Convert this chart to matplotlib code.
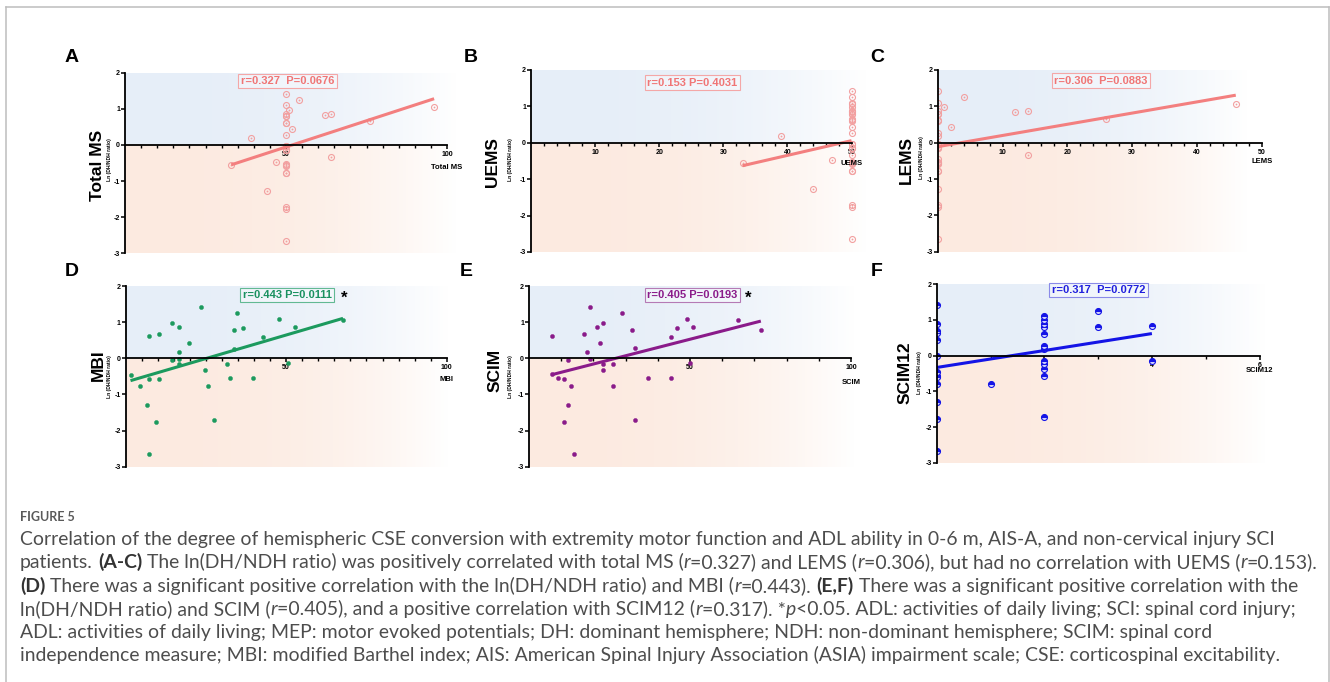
import numpy as np
import matplotlib
matplotlib.use("Agg")
import matplotlib.pyplot as plt
from matplotlib import font_manager
from matplotlib.lines import Line2D

# ---------------- data ----------------
ms_x = [39, 33, 47, 44, 51, 52, 54, 62, 64, 64, 76, 96] + [50] * 21
ms_y = [0.18, -0.55, -0.46, -1.28, 0.97, 0.43, 1.25, 0.84, 0.87, -0.33, 0.66, 1.06,
        1.41, 1.10, 0.86, 0.80, 0.79, 0.62, 0.60, 0.28, -0.03, -0.04, -0.13, -0.15, -0.15,
        -0.54, -0.55, -0.58, -0.77, -0.78, -1.71, -1.76, -2.65]

uems_x = [39, 33, 47, 44] + [50] * 29
uems_y = [0.18, -0.55, -0.46, -1.28,
          1.41, 1.25, 1.10, 1.06, 0.97, 0.87, 0.86, 0.84, 0.80, 0.79, 0.66, 0.62, 0.60,
          0.43, 0.28, -0.03, -0.04, -0.13, -0.15, -0.15, -0.33, -0.54, -0.55, -0.58,
          -0.77, -0.78, -1.71, -1.76, -2.65]

lems_x = [1, 2, 4, 12, 14, 14, 26, 46] + [0] * 25
lems_y = [0.97, 0.43, 1.25, 0.84, 0.87, -0.33, 0.66, 1.06,
          0.18, -0.55, -0.46, -1.28,
          1.41, 1.10, 0.86, 0.80, 0.79, 0.62, 0.60, 0.28, -0.03, -0.04, -0.13, -0.15,
          -0.15, -0.54, -0.55, -0.58, -0.77, -0.78, -1.71, -1.76, -2.65]

mbi_x = [1.5, 4.5, 6.5, 7.4, 7.4, 7.4, 9.5, 10.5, 10.5, 14.5, 14.5, 16.6, 16.6, 16.6,
         16.6, 19.6, 23.6, 24.6, 25.6, 27.6, 31.6, 32.6, 33.6, 33.6, 34.6, 36.6, 39.7,
         42.7, 47.7, 50.7, 52.7, 67.7]
mbi_y = [-0.46, -0.78, -1.29, 0.62, -0.58, -2.65, -1.77, 0.67, -0.56, 0.97, -0.04, 0.86,
         0.18, -0.03, -0.17, 0.43, 1.41, -0.33, -0.77, -1.71, -0.16, -0.55, 0.79, 0.27,
         1.25, 0.83, -0.55, 0.59, 1.10, -0.13, 0.87, 1.06]

scim_x = [7, 7, 9, 11, 11, 12, 12, 13, 14, 17, 18, 19, 19, 21, 22, 23, 23, 23, 26, 26,
          29, 32, 33, 33, 37, 44, 44, 46, 49, 50, 51, 65, 72]
scim_y = [0.62, -0.44, -0.55, -0.58, -1.76, -0.04, -1.28, -0.78, -2.64, 0.67, 0.18, 1.41,
          -0.03, 0.86, 0.43, 0.97, -0.15, -0.33, -0.15, -0.77, 1.25, 0.79, 0.28, -1.71,
          -0.54, 0.60, -0.54, 0.83, 1.10, -0.13, 0.87, 1.06, 0.79]

scim12_x = [0] * 13 + [1] + [2] * 12 + [3, 3, 4, 4]
scim12_y = [1.42, 0.88, 0.69, 0.64, 0.44, 0.00, -0.45, -0.56, -0.61, -0.79, -1.31, -1.77,
            -2.67, -0.79, 1.12, 1.00, 0.88, 0.79, 0.60, 0.27, 0.19, -0.15, -0.23, -0.36,
            -0.57, -1.72, 1.26, 0.79, 0.84, -0.14]

# regression lines (intercept, slope)
fit_ms = (-1.509, 0.02905)
fit_uems = (-1.966, 0.0405)
fit_lems = (-0.11, 0.0308)
fit_mbi = (-0.658, 0.02604)
fit_scim = (-0.616, 0.02285)
fit_scim12 = (-0.33, 0.2375)

stat_ms = "r=0.327  P=0.0676"
stat_uems = "r=0.153 P=0.4031"
stat_lems = "r=0.306  P=0.0883"
stat_mbi = "r=0.443 P=0.0111"
stat_scim = "r=0.405 P=0.0193"
stat_scim12 = "r=0.317  P=0.0772"

ylabel_small = "Ln (DH/NDH ratio)"

# ---------------- figure ----------------
W, H = 1330, 682
fig = plt.figure(figsize=(W / 100, H / 100), dpi=100)
fig.patch.set_facecolor("white")

names = {f.name for f in font_manager.fontManager.ttflist}
SANS = "Liberation Sans"
COND = "Liberation Sans Narrow" if "Liberation Sans Narrow" in names else "Liberation Sans"
CAP = "Lato" if "Lato" in names else "DejaVu Sans"


def fx(px):
    return px / W


def fy(py):
    return 1 - py / H


PINK = "#f37f7f"
PINK_M = "#f2a0a0"
panels = [
    dict(letter="A", lpos=(72, 57), name="Total MS", npos=(97, 165), spos=(110, 160),
         x=ms_x, y=ms_y, fit=fit_ms, stat=stat_ms, star=False,
         x0=125.0, unit=3.22, top=72.7, bot=253.3, xmax=103, shade=103, aend=100,
         major=50, minor=5, mstyle="ring", lc=PINK, tc="#f07575", ec="#f4a7a7",
         apos=(50.5, 1.77), toff=23, fsz=12.5),
    dict(letter="B", lpos=(471, 57), name="UEMS", npos=(493, 162), spos=(511, 160),
         x=uems_x, y=uems_y, fit=fit_uems, stat=stat_uems, star=False,
         x0=531.0, unit=6.41, top=70.0, bot=252.0, xmax=52.4, shade=52.4, aend=50,
         major=10, minor=2, mstyle="ring", lc=PINK, tc="#f07575", ec="#f4a7a7",
         apos=(25.2, 1.65), toff=20.5, fsz=12.5),
    dict(letter="C", lpos=(877, 57), name="LEMS", npos=(906, 160), spos=(921, 158),
         x=lems_x, y=lems_y, fit=fit_lems, stat=stat_lems, star=False,
         x0=937.7, unit=6.48, top=70.0, bot=251.7, xmax=51, shade=47.7, aend=50,
         major=10, minor=2, mstyle="ring", lc=PINK, tc="#f07575", ec="#f4a7a7",
         apos=(25.2, 1.70), toff=19, fsz=12.5),
    dict(letter="D", lpos=(72, 272), name="MBI", npos=(98, 365), spos=(110, 377),
         x=mbi_x, y=mbi_y, fit=fit_mbi, stat=stat_mbi, star=True,
         x0=125.7, unit=3.21, top=286.0, bot=466.7, xmax=101, shade=100.5, aend=100,
         major=50, minor=5, mstyle="dot", lc="#1c9a5e", tc="#1a9160", ec="#62b993",
         apos=(50.3, 1.75), toff=21.7, fsz=12.5),
    dict(letter="E", lpos=(466, 272), name="SCIM", npos=(495, 370), spos=(511, 377),
         x=scim_x, y=scim_y, fit=fit_scim, stat=stat_scim, star=True,
         x0=529.0, unit=3.22, top=286.0, bot=466.7, xmax=101.5, shade=101, aend=100,
         major=50, minor=10, mstyle="dot", lc="#8a1b8a", tc="#8a1b8a", ec="#b57ab5",
         apos=(50.8, 1.75), toff=24, fsz=12.5),
    dict(letter="F", lpos=(877, 272), name="SCIM12", npos=(905, 373), spos=(920, 373),
         x=scim12_x, y=scim12_y, fit=fit_scim12, stat=stat_scim12, star=False,
         x0=936.7, unit=53.8, top=284.3, bot=462.8, xmax=6.15, shade=6.1, aend=6,
         major=2, minor=1, mstyle="half", lc="#1414e6", tc="#2020dd", ec="#8a8ae8",
         apos=(3.01, 1.84), toff=15, fsz=12.5),
]

TOP_C = np.array([230, 238, 248]) / 255
BOT_C = np.array([252, 234, 224]) / 255

for p in panels:
    left = p["x0"]
    width = p["unit"] * p["xmax"]
    ax = fig.add_axes([fx(left), fy(p["bot"]), width / W, (p["bot"] - p["top"]) / H])
    ax.patch.set_alpha(0)

    # gradient background
    t = np.linspace(0, 1, 256)
    alpha = 1 - t ** 2.5
    img = np.ones((5, 256, 4))
    for r in range(5):
        img[r, :, :3] = BOT_C if r < 3 else TOP_C
        img[r, :, 3] = alpha
    ax.imshow(img, extent=[0, p["shade"], -3, 2], origin="lower", aspect="auto",
              interpolation="nearest", zorder=0)

    xs = np.asarray(p["x"], float)
    ys = np.asarray(p["y"], float)
    if p["mstyle"] == "ring":
        ax.plot(xs, ys, "o", ms=4.3, mfc="none", mec=PINK_M, mew=0.8, zorder=3)
        ax.plot(xs, ys, "o", ms=1.3, mfc=PINK_M, mec="none", zorder=3)
    elif p["mstyle"] == "dot":
        ax.plot(xs, ys, "o", ms=3.0, mfc=p["lc"], mec=p["lc"], mew=0.3, zorder=3)
    else:
        ax.plot(xs, ys, "o", ms=4.3, fillstyle="top", mfc=p["lc"],
                markerfacecoloralt="#dcdcff", mec=p["lc"], mew=0.8, zorder=3)

    b0, b1 = p["fit"]
    fx_line = np.array([xs.min(), xs.max()])
    ax.plot(fx_line, b0 + b1 * fx_line, color=p["lc"], lw=2.2,
            solid_capstyle="butt", zorder=4)

    ax.set_xlim(0, p["xmax"])
    ax.set_ylim(-3, 2)

    for s in ("top", "right"):
        ax.spines[s].set_visible(False)
    ax.spines["bottom"].set_position(("data", 0))
    ax.spines["bottom"].set_bounds(0, p["aend"])
    ax.spines["left"].set_bounds(-3, 2)
    for s in ("bottom", "left"):
        ax.spines[s].set_linewidth(1.3)
        ax.spines[s].set_zorder(5)

    majors = np.arange(p["major"], p["aend"] + 1e-6, p["major"])
    minors = np.arange(p["minor"], p["aend"] + 1e-6, p["minor"])
    ax.set_xticks(majors)
    ax.set_xticklabels([f"{v:g}" for v in majors])
    ax.set_xticks(minors, minor=True)
    ax.set_yticks([-3, -2, -1, 0, 1, 2])
    ax.set_yticklabels(["-3", "-2", "-1", "0", "1", "2"])
    ax.tick_params(axis="x", which="major", direction="out", length=3.2, width=1.1,
                   labelsize=5, pad=1.2)
    ax.tick_params(axis="x", which="minor", direction="out", length=2.4, width=1.0)
    ax.tick_params(axis="y", direction="out", length=2.6, width=1.1, labelsize=5, pad=1.0)
    for lbl in ax.get_xticklabels() + ax.get_yticklabels():
        lbl.set_fontweight("bold")
        lbl.set_family(SANS)

    ax.annotate(p["name"], xy=(p["aend"], 0), xytext=(0, -p["toff"] * 0.72),
                textcoords="offset points", ha="center", va="center", fontsize=5.5,
                fontweight="bold", family=SANS, zorder=6)

    ax.text(p["apos"][0], p["apos"][1], p["stat"], ha="center", va="center",
            fontsize=8, fontweight="bold", color=p["tc"], family=SANS, zorder=6,
            bbox=dict(boxstyle="square,pad=0.22", fc=(1, 1, 1, 0.35), ec=p["ec"], lw=0.8))
    if p["star"]:
        ax.text(68.2, p["apos"][1] - 0.1, "*", ha="center", va="center", fontsize=12,
                fontweight="bold", color="black", family=SANS, zorder=6)

    fig.text(fx(p["lpos"][0]), fy(p["lpos"][1]), p["letter"], ha="center", va="center",
             fontsize=14, fontweight="bold", family=SANS)
    fig.text(fx(p["npos"][0]), fy(p["npos"][1]), p["name"], ha="center", va="center",
             rotation=90, fontsize=p["fsz"], fontweight="bold", family=COND)
    fig.text(fx(p["spos"][0]), fy(p["spos"][1]), ylabel_small, ha="center", va="center",
             rotation=90, fontsize=3.6, fontweight="bold", family=COND)

# ---------------- border ----------------
for (xa, ya, xb, yb) in [(6, 7, 1329, 7), (6, 7, 6, 690), (1329, 7, 1329, 690)]:
    fig.add_artist(Line2D([fx(xa), fx(xb)], [fy(ya), fy(yb)], transform=fig.transFigure,
                          color="#bdbdbd", lw=1.1))

# ---------------- caption ----------------
CAP_COLOR = "#4d4d4d"
fig.text(fx(20), fy(517), "FIGURE 5", ha="left", va="center", fontsize=9,
         color="#5a5a5a", family=CAP, fontweight="bold")

N, B, I = "n", "b", "i"
cap_lines = [
    [("Correlation of the degree of hemispheric CSE conversion with extremity motor function and ADL ability in 0-6 m, AIS-A, and non-cervical injury SCI", N)],
    [("patients. ", N), ("(A-C)", B), (" The ln(DH/NDH ratio) was positively correlated with total MS (", N),
     ("r", I), ("=0.327) and LEMS (", N), ("r", I), ("=0.306), but had no correlation with UEMS (", N),
     ("r", I), ("=0.153).", N)],
    [("(D)", B), (" There was a significant positive correlation with the ln(DH/NDH ratio) and MBI (", N),
     ("r", I), ("=0.443). ", N), ("(E,F)", B), (" There was a significant positive correlation with the", N)],
    [("ln(DH/NDH ratio) and SCIM (", N), ("r", I), ("=0.405), and a positive correlation with SCIM12 (", N),
     ("r", I), ("=0.317). *", N), ("p", I), ("<0.05. ADL: activities of daily living; SCI: spinal cord injury;", N)],
    [("ADL: activities of daily living; MEP: motor evoked potentials; DH: dominant hemisphere; NDH: non-dominant hemisphere; SCIM: spinal cord", N)],
    [("independence measure; MBI: modified Barthel index; AIS: American Spinal Injury Association (ASIA) impairment scale; CSE: corticospinal excitability.", N)],
]
cap_y = [540, 563, 587, 610, 633, 656]
CAP_X = 20
CAP_LIMIT = 1314   # no caption line may run past this pixel

renderer = fig.canvas.get_renderer()


def make_seg(x, y, s, k, size, draw):
    weight = "bold" if k == B else "normal"
    style = "italic" if k == I else "normal"
    color = "#333333" if k == B else CAP_COLOR
    t = fig.text(fx(x), fy(y), s, fontsize=size, family=CAP, fontweight=weight,
                 fontstyle=style, color=color, ha="left", va="baseline")
    w = t.get_window_extent(renderer).width
    if not draw:
        t.remove()
    return w


def space_width(size):
    return (make_seg(0, 0, "x x", N, size, False) - make_seg(0, 0, "xx", N, size, False))


def draw_line(x, y, segs, size, draw=True):
    sw = space_width(size)
    x_start = x
    for s, k in segs:
        lead = len(s) - len(s.lstrip(" "))
        trail = len(s) - len(s.rstrip(" "))
        core = s.strip(" ")
        x += lead * sw
        if core:
            x += make_seg(x, y, core, k, size, draw)
        x += trail * sw
    return x - x_start


base = 12.0
widest = max(draw_line(0, 0, segs, base, draw=False) for segs in cap_lines)
cap_size = base * (CAP_LIMIT - CAP_X) / widest

for segs, yc in zip(cap_lines, cap_y):
    draw_line(CAP_X, yc + 5, segs, cap_size)

fig.savefig("out.png", dpi=100, facecolor="white")
